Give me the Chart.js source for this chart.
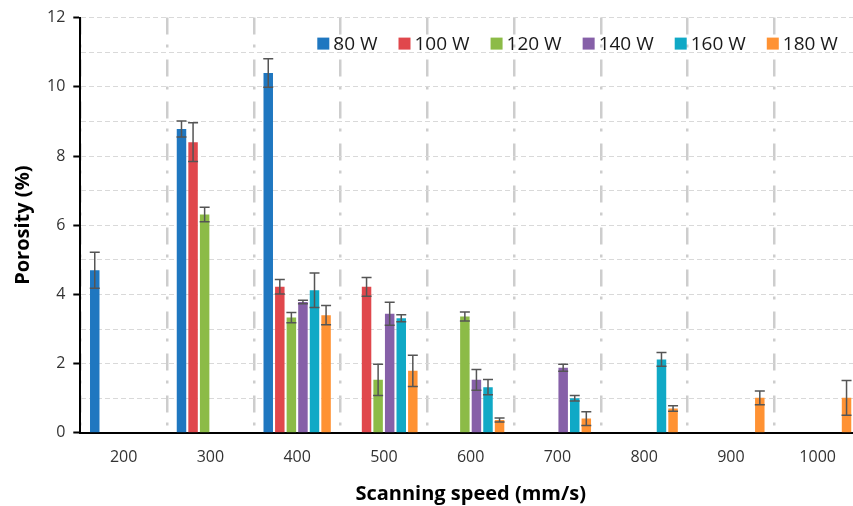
<!DOCTYPE html>
<html>
<head>
<meta charset="utf-8">
<script src="https://cdn.jsdelivr.net/npm/chart.js@4/dist/chart.umd.min.js"></script>
<style>
  html, body { margin: 0; padding: 0; background: #fff; overflow: hidden; }
  #wrap { width: 862px; height: 506px; position: relative; }
</style>
</head>
<body>
<div id="wrap"><canvas id="chart"></canvas></div>
<script>
// scanning speed categories (mm/s)
var speeds = ['200', '300', '400', '500', '600', '700', '800', '900', '1000'];

// porosity (%) per laser power, null = not measured
var p80  = [4.70, 8.78, 10.40, null, null, null, null, null, null];
var p100 = [null, 8.40, 4.22, 4.22, null, null, null, null, null];
var p120 = [null, 6.31, 3.33, 1.53, 3.36, null, null, null, null];
var p140 = [null, null, 3.78, 3.44, 1.53, 1.88, null, null, null];
var p160 = [null, null, 4.12, 3.31, 1.32, 1.00, 2.12, null, null];
var p180 = [null, null, 3.40, 1.79, 0.37, 0.41, 0.70, 1.01, 1.01];

// error bar half-heights
var e80  = [0.52, 0.23, 0.41, null, null, null, null, null, null];
var e100 = [null, 0.56, 0.21, 0.27, null, null, null, null, null];
var e120 = [null, 0.21, 0.15, 0.45, 0.13, null, null, null, null];
var e140 = [null, null, 0.05, 0.33, 0.30, 0.10, null, null, null];
var e160 = [null, null, 0.50, 0.10, 0.22, 0.08, 0.20, null, null];
var e180 = [null, null, 0.28, 0.45, 0.06, 0.20, 0.08, 0.20, 0.50];

var yTicks = [0, 2, 4, 6, 8, 10, 12];

function series(label, data, err, color) {
    return {
        label: label,
        data: data,
        errors: err,
        backgroundColor: color,
        borderWidth: 0,
        categoryPercentage: 0.8,
        barPercentage: 0.82
    };
}

// error bars drawn with the chart's own scales
var errorBars = {
    id: 'errorBars',
    afterDatasetsDraw: function(chart) {
        var ctx = chart.ctx;
        var y = chart.scales.y;
        ctx.save();
        ctx.strokeStyle = '#555';
        ctx.lineWidth = 1.5;
        chart.data.datasets.forEach(function(ds, i) {
            var meta = chart.getDatasetMeta(i);
            ds.data.forEach(function(v, j) {
                var e = ds.errors[j];
                if (v == null || e == null) return;
                var x = meta.data[j].x;
                var top = y.getPixelForValue(v + e);
                var bot = y.getPixelForValue(v - e);
                ctx.beginPath();
                ctx.moveTo(x, top); ctx.lineTo(x, bot);
                ctx.moveTo(x - 5, top); ctx.lineTo(x + 5, top);
                ctx.moveTo(x - 5, bot); ctx.lineTo(x + 5, bot);
                ctx.stroke();
            });
        });
        ctx.restore();
    }
};

// legend in one row inside the plot, like the original
var innerLegend = {
    id: 'innerLegend',
    afterDraw: function(chart) {
        var ctx = chart.ctx;
        var area = chart.chartArea;
        var x = area.left + 237;
        var yc = area.top + 26;
        ctx.save();
        ctx.font = '19px "Open Sans"';
        ctx.textBaseline = 'middle';
        chart.data.datasets.forEach(function(ds) {
            ctx.fillStyle = ds.backgroundColor;
            ctx.fillRect(x, yc - 6, 12, 12);
            ctx.fillStyle = '#1a1a1a';
            ctx.fillText(ds.label, x + 16, yc + 1);
            x += 16 + ctx.measureText(ds.label).width + 21;
        });
        ctx.restore();
    }
};

Chart.defaults.font.family = '"Open Sans"';

var ctx = document.getElementById('chart').getContext('2d');
var myChart = new Chart(ctx, {
    type: 'bar',
    data: {
        labels: speeds,
        datasets: [
            series('80 W', p80, e80, '#1f77c0'),
            series('100 W', p100, e100, '#e0474c'),
            series('120 W', p120, e120, '#8cbb47'),
            series('140 W', p140, e140, '#8660a8'),
            series('160 W', p160, e160, '#10a9c6'),
            series('180 W', p180, e180, '#ff9233')
        ]
    },
    options: {
        responsive: true,
        maintainAspectRatio: false,
        animation: false,
        layout: { padding: { left: 7, top: 6, right: 1, bottom: 0 } },
        plugins: {
            legend: { display: false },
            tooltip: { enabled: false }
        },
        scales: {
            x: {
                grid: {
                    offset: true,
                    color: '#cdcdcd',
                    lineWidth: 2.5,
                    drawTicks: false
                },
                border: { color: '#000', width: 2, dash: [17, 10, 3, 12] },
                ticks: { color: '#333', font: { size: 16 }, padding: 15 },
                title: {
                    display: true,
                    text: 'Scanning speed (mm/s)',
                    color: '#000',
                    font: { size: 20, weight: 'bold' },
                    padding: { top: 0, bottom: 0 }
                }
            },
            y: {
                min: 0,
                max: 12,
                ticks: {
                    stepSize: 1,
                    color: '#333',
                    font: { size: 16 },
                    padding: 8,
                    callback: function(v) { return yTicks.indexOf(v) >= 0 ? v : ''; }
                },
                grid: {
                    color: '#d9d9d9',
                    lineWidth: 1,
                    tickLength: 7,
                    tickColor: function(c) { return yTicks.indexOf(c.tick.value) >= 0 ? '#000' : 'rgba(0,0,0,0)'; },
                    tickWidth: 2
                },
                border: { color: '#000', width: 2, dash: [5, 3] },
                title: {
                    display: true,
                    text: 'Porosity (%)',
                    color: '#000',
                    font: { size: 20, weight: 'bold' },
                    padding: { top: 4, bottom: 4 }
                }
            }
        }
    },
    plugins: [errorBars, innerLegend]
});
</script>
</body>
</html>
